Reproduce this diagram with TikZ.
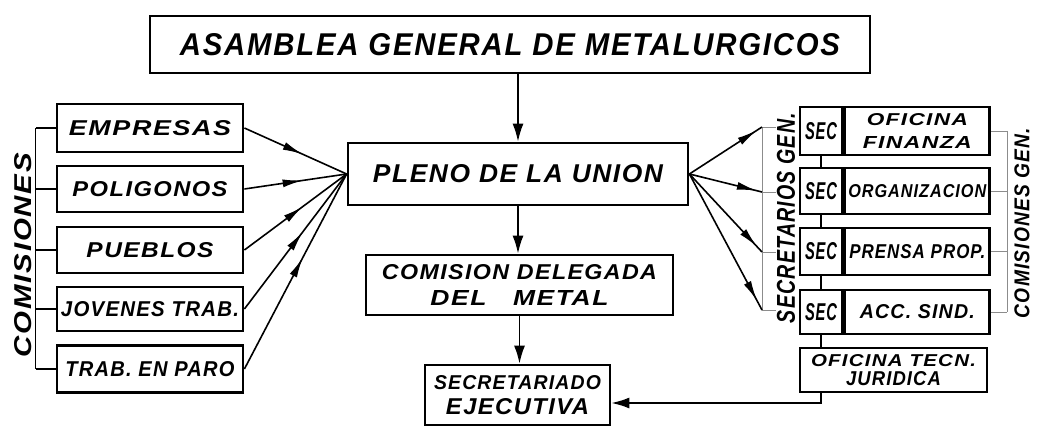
\documentclass[tikz,border=0pt]{standalone}
\usepackage{graphicx}
\usepackage{fontspec}
\setmainfont{Liberation Sans}[LetterSpace=6]
\usetikzlibrary{arrows.meta,decorations.markings}
\newcommand{\fit}[3]{\resizebox{#1pt}{#2pt}{\bfseries\itshape #3}}
\begin{document}
\begin{tikzpicture}[x=1pt,y=-1pt,
  box/.style={draw, line width=2.8pt, inner sep=0pt},
  conn/.style={line width=1.6pt},
  tip/.style={-{Latex[length=18pt,width=11pt]}},
  midarrow/.style={postaction={decorate},decoration={markings,mark=at position #1 with {\arrow{Latex[length=20pt,width=8pt]}}}},
  faint/.style={line width=0.9pt, draw=black!45},
  twoline/.style={align=center, font=\fontsize{10}{#1}\selectfont}
]
\fill[white] (0,0) rectangle (1041,430);
\useasboundingbox (0,0) rectangle (1041,430);

% centre column
\node[box, minimum width=720pt, minimum height=57pt] (asam) at (510,44.5) {\fit{660}{22}{ASAMBLEA GENERAL DE METALURGICOS}};
\node[box, minimum width=340pt, minimum height=62pt] (pleno) at (518,174) {\fit{290}{18}{PLENO DE LA UNION}};
\node[box, minimum width=307pt, minimum height=60pt, twoline=26] (comi) at (519.5,285) {\fit{275}{15}{COMISION DELEGADA}\\\fit{178}{15}{DEL\quad METAL}};
\node[box, minimum width=185pt, minimum height=60pt, twoline=25] (secre) at (517.5,395) {\fit{167}{14}{SECRETARIADO}\\\fit{143}{16}{EJECUTIVA}};

% left column
\node[box, minimum width=186pt, minimum height=48pt] (emp) at (150,128) {\fit{162}{15}{EMPRESAS}};
\node[box, minimum width=186pt, minimum height=46pt] (pol) at (150,189) {\fit{155}{15}{POLIGONOS}};
\node[box, minimum width=186pt, minimum height=46pt] (pue) at (150,250) {\fit{127}{15}{PUEBLOS}};
\node[box, minimum width=186pt, minimum height=44pt] (jov) at (150,309) {\fit{178}{15}{JOVENES TRAB.}};
\node[box, minimum width=186pt, minimum height=47pt] (tra) at (150,369) {\fit{169}{15}{TRAB. EN PARO}};

\coordinate (lt) at ([xshift=-20pt]emp.west);
\coordinate (lb) at ([xshift=-20pt]tra.west);
\draw[line width=1.1pt] (lt) -- (lb);
\foreach \n in {emp,pol,pue,jov,tra} \draw[line width=1.1pt] (\n.west) -- (\n.west -| lt);
\node[rotate=90] (comlab) at (23,255) {\fit{204}{17}{COMISIONES}};

\foreach \n in {emp,pol,pue,jov,tra} \draw[conn, midarrow=0.57] (\n.east) -- (pleno.west);

% right column
\node[box, minimum width=42pt, minimum height=48pt] (s1) at (821,131) {\fit{32}{17}{SEC}};
\node[box, minimum width=42pt, minimum height=46pt] (s2) at (821,191) {\fit{32}{17}{SEC}};
\node[box, minimum width=42pt, minimum height=47pt] (s3) at (821,251.5) {\fit{32}{17}{SEC}};
\node[box, minimum width=42pt, minimum height=44pt] (s4) at (821,312) {\fit{32}{17}{SEC}};
\node[box, anchor=west, minimum width=145pt, minimum height=48pt, twoline=23] (fin) at (s1.east) {\fit{101}{12}{OFICINA}\\\fit{109}{12}{FINANZA}};
\node[box, anchor=west, minimum width=145pt, minimum height=46pt] (org) at (s2.east) {\fit{138}{13}{ORGANIZACION}};
\node[box, anchor=west, minimum width=145pt, minimum height=47pt] (pren) at (s3.east) {\fit{136}{14}{PRENSA PROP.}};
\node[box, anchor=west, minimum width=145pt, minimum height=44pt] (acc) at (s4.east) {\fit{115}{14}{ACC. SIND.}};
\node[box, minimum width=187pt, minimum height=44pt, twoline=19] (otec) at (893.5,370) {\fit{165}{12}{OFICINA TECN.}\\\fit{95}{14}{JURIDICA}};

\draw[line width=2.4pt] (s1.south) -- (s2.north) (s2.south) -- (s3.north) (s3.south) -- (s4.north) (s4.south) -- (s4.south |- otec.north);
\coordinate (ob) at (s4.south |- otec.south);
\draw[conn, tip] (ob) |- ([yshift=-8pt]secre.east);

\coordinate (r1) at (762,127);
\coordinate (r2) at (762,192);
\coordinate (r3) at (762,252);
\coordinate (r4) at (762,310);
\draw[faint] (r1) -- (r4);
\foreach \r in {r1,r2,r3,r4} {
  \draw[faint] (\r) -- ++(14,0);
  \draw[conn, midarrow=0.93] (pleno.east) -- (\r);
}
\node[rotate=90] (slab) at (786,218) {\fit{210}{18}{SECRETARIOS GEN.}};

\foreach \n/\c in {fin/c1,org/c2,pren/c3,acc/c4} \draw[faint] (\n.east) -- ++(16,0) coordinate (\c);
\draw[faint] (c1) -- (c4);
\node[rotate=90] (clab) at (1022,223) {\fit{190}{15}{COMISIONES GEN.}};

% vertical arrows
\draw[conn, tip] (pleno.north |- asam.south) -- (pleno.north);
\draw[conn, tip] (pleno.south) -- (pleno.south |- comi.north);
\draw[conn, tip] (comi.south) -- (comi.south |- secre.north);
\end{tikzpicture}
\end{document}
